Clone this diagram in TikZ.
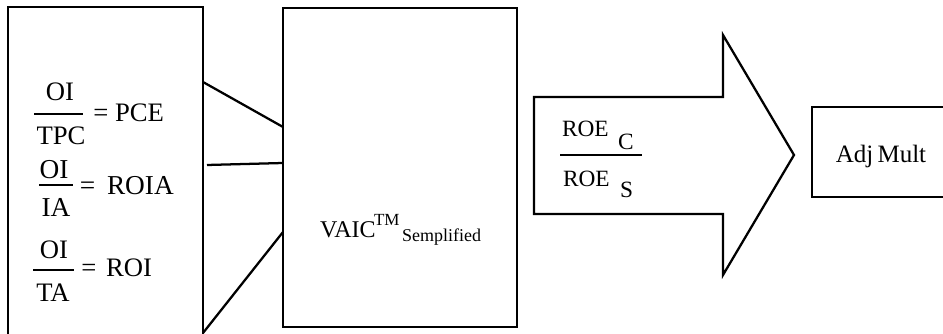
\documentclass[tikz,border=0pt]{standalone}
\usepackage{fontspec}
\setmainfont{Liberation Serif}
\begin{document}
\begin{tikzpicture}[x=0.75pt,y=-0.75pt,
  box/.style={draw, line width=1.7pt, inner sep=0pt, outer sep=0pt, anchor=north west},
  conn/.style={line width=1.7pt},
  bar/.style={line width=1.3pt},
  txt/.style={inner sep=0pt, outer sep=0pt, anchor=base},
  txtw/.style={inner sep=0pt, outer sep=0pt, anchor=base west},
  fr/.style={font=\fontsize{20}{22}\selectfont},
  frb/.style={font=\fontsize{20.5}{22}\selectfont},
  roe/.style={font=\fontsize{17.5}{19}\selectfont},
  lbl/.style={font=\fontsize{18.75}{20}\selectfont}]
\useasboundingbox (0,0) rectangle (943,334);
\clip (0,0) rectangle (943,334);
\fill[white] (0,0) rectangle (943,334);

% boxes
\node[box, minimum width=146.25pt, minimum height=255pt] (L) at (8,7) {};
\node[box, minimum width=175.5pt, minimum height=239.25pt] (M) at (283,8) {};
\node[box, minimum width=120pt, minimum height=67.5pt] (A) at (812,107) {};

% connectors
\coordinate (p1) at (203,82);  \coordinate (q1) at (283,127);
\coordinate (p2) at (207,165); \coordinate (q2) at (283,163);
\coordinate (p3) at (203,333); \coordinate (q3) at (283,232);
\draw[conn] (p1) -- (q1);
\draw[conn] (p2) -- (q2);
\draw[conn] (p3) -- (q3);

% block arrow
\draw[line width=1.7pt, line join=miter] (534,97) -- (723,97) -- (723,35) -- (794,155)
  -- (723,275) -- (723,214) -- (534,214) -- cycle;

% fraction 1
\node[txt, fr] (f1n) at (60,101) {OI};
\draw[bar] (34,114) -- (83,114);
\node[txt, fr] (f1d) at (61,145) {TPC};
\node[txt, fr] (f1e) at (101,122) {=};
\node[txtw, fr] (f1r) at (115,122) {PCE};

% fraction 2
\node[txt, frb] (f2n) at (54,179) {OI};
\draw[bar] (39,185) -- (73,185);
\node[txt, frb] (f2d) at (56,217) {IA};
\node[txt, frb] (f2e) at (87.5,195) {=};
\node[txtw, frb] (f2r) at (107,195) {ROIA};

% fraction 3
\node[txt, fr] (f3n) at (54,259) {OI};
\draw[bar] (33,270) -- (74,270);
\node[txt, fr] (f3d) at (53,302) {TA};
\node[txt, fr] (f3e) at (89,277) {=};
\node[txtw, fr] (f3r) at (106,277) {ROI};

% VAIC
\node[txtw, font=\fontsize{18}{20}\selectfont] (v1) at (320,238) {VAIC};
\node[txtw, font=\fontsize{12.75}{14}\selectfont] (v2) at (374,226) {TM};
\node[txtw, font=\fontsize{13.5}{15}\selectfont] (v3) at (402,242) {Semplified};

% ROE fraction
\node[txtw, roe] (r1) at (562,137) {ROE};
\node[txtw, roe] (r1s) at (618,150) {C};
\draw[bar] (560,155) -- (642,155);
\node[txtw, roe] (r2) at (563,187) {ROE};
\node[txtw, roe] (r2s) at (620,198) {S};

% Adj Mult
\node[txt, lbl] (am) at (881,163) {Adj\hspace{-1.5pt} Mult};
\end{tikzpicture}
\end{document}
